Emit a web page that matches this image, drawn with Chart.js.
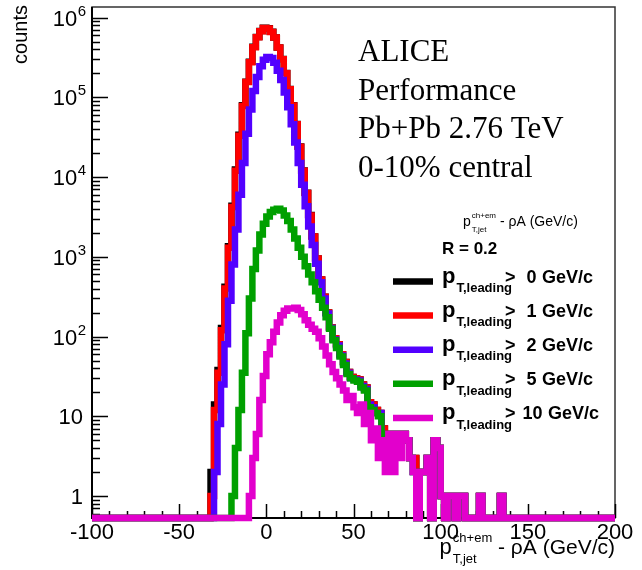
<!DOCTYPE html>
<html>
<head>
<meta charset="utf-8">
<script src="https://cdn.jsdelivr.net/npm/chart.js@4.4.0/dist/chart.umd.min.js"></script>
<style>
  html, body { margin: 0; padding: 0; background: #fff; }
  #wrap { width: 642px; height: 570px; }
</style>
</head>
<body>
<div id="wrap"><canvas id="jets" width="642" height="570"></canvas></div>
<script>
// histogram binning: 2 GeV/c bins, first listed bin starts at -34
const binWidth = 2;
const firstEdge = -34;
const xMin = -100, xMax = 200;
const yMin = 0.53, yMax = 1.355e6;

// counts per bin (p_T,leading > 0, 1, 2, 5, 10 GeV/c)
const countsAll = [
  0, 2, 14, 38, 128, 420, 1350, 4350, 12400, 33800,
  79500, 157000, 278000, 429000, 569000, 679000, 744000, 733000, 663000, 562000,
  422000, 301000, 201000, 127000, 79500, 46300, 24200, 12100, 6350, 3330,
  1800, 950, 520, 316, 200, 130, 95, 80, 60, 48,
  36, 31, 30, 29, 25, 23, 15, 14, 12, 11,
  7, 6, 6, 5, 6, 6, 6, 5, 3, 3,
  0, 2, 2, 3, 0, 5, 4, 1, 0, 1,
  1, 0, 1, 1, 0, 0, 0, 0, 1, 0,
  0, 0, 0, 0, 1
];
const counts1 = [
  0, 1, 12, 35, 120, 400, 1300, 4200, 12000, 33000,
  78000, 155000, 275000, 425000, 565000, 675000, 740000, 730000, 660000, 560000,
  420000, 300000, 200000, 126000, 79000, 46000, 24000, 12000, 6300, 3300,
  1800, 950, 520, 316, 200, 130, 95, 80, 60, 48,
  36, 31, 30, 29, 25, 23, 15, 14, 12, 11,
  7, 6, 6, 5, 6, 6, 6, 5, 3, 3,
  0, 2, 2, 3, 0, 5, 4, 1, 0, 1,
  1, 0, 1, 1, 0, 0, 0, 0, 1, 0,
  0, 0, 0, 0, 1
];
const counts2 = [
  0, 0, 2, 8, 25, 80, 280, 800, 2200, 6000,
  15000, 35000, 70000, 120000, 180000, 245000, 295000, 320000, 310000, 270000,
  215000, 165000, 115000, 75000, 46000, 27000, 15000, 8000, 4300, 2400,
  1400, 820, 480, 300, 195, 128, 92, 77, 58, 46,
  35, 30, 29, 28, 24, 22, 14, 13, 11, 11,
  6, 6, 6, 5, 6, 6, 6, 5, 3, 2,
  0, 2, 2, 3, 0, 5, 4, 1, 0, 1,
  1, 0, 1, 1, 0, 0, 0, 0, 1, 0,
  0, 0, 0, 0, 1
];
const counts5 = [
  0, 0, 0, 0, 0, 0, 0, 1, 4, 12,
  35, 110, 300, 700, 1200, 1900, 2600, 3200, 3650, 3900,
  4000, 3800, 3300, 2800, 2200, 1700, 1300, 1000, 760, 600,
  480, 370, 290, 230, 175, 125, 90, 72, 56, 44,
  34, 30, 28, 27, 23, 21, 13, 12, 11, 10,
  6, 6, 6, 5, 6, 6, 6, 5, 3, 2,
  0, 2, 2, 3, 0, 5, 4, 1, 0, 1,
  1, 0, 1, 1, 0, 0, 0, 0, 1, 0,
  0, 0, 0, 0, 1
];
const counts10 = [
  0, 0, 0, 0, 0, 0, 0, 0, 0, 0,
  0, 0, 1, 3, 6, 16, 32, 60, 85, 115,
  150, 185, 210, 225, 225, 230, 215, 190, 160, 140,
  125, 115, 95, 75, 58, 45, 36, 30, 25, 21,
  16, 18, 13, 11, 14, 8, 11, 5, 7, 3,
  5, 2, 6, 2, 6, 3, 6, 5, 3, 2,
  0, 2, 2, 3, 0, 5, 4, 1, 0, 1,
  1, 0, 1, 1, 0, 0, 0, 0, 1, 0,
  0, 0, 0, 0, 1
];

const thresholds = ['0', '1', '2', '5', '10'];
const colors = ['#000000', '#ff0000', '#5200ff', '#00a000', '#e200cc'];
const xTickLabels = [-100, -50, 0, 50, 100, 150, 200];
const yTickExponents = [0, 1, 2, 3, 4, 5, 6];
const allCounts = [countsAll, counts1, counts2, counts5, counts10];

// step points at bin low edges; empty bins sit on the axis minimum like ROOT draws them
function stepPoints(counts) {
  const pts = [{x: xMin, y: yMin}];
  counts.forEach((c, i) => pts.push({x: firstEdge + i * binWidth, y: c > 0 ? c : yMin}));
  pts.push({x: firstEdge + counts.length * binWidth, y: yMin});
  pts.push({x: xMax, y: yMin});
  return pts;
}

const datasets = allCounts.map((counts, i) => ({
  label: 'pT,leading > ' + thresholds[i] + ' GeV/c',
  data: stepPoints(counts),
  borderColor: colors[i],
  borderWidth: 6.5,
  borderJoinStyle: 'miter',
  stepped: 'before',
  pointRadius: 0,
  fill: false,
  order: allCounts.length - i,
  clip: {left: 0, top: 0, right: 0, bottom: 8}
}));

const SANS = '"Liberation Sans", Arial, sans-serif';
const SERIF = '"Liberation Serif", "Times New Roman", serif';

function text(ctx, s, x, y, font, align) {
  ctx.font = font;
  ctx.textAlign = align || 'left';
  ctx.fillText(s, x, y);
  return ctx.measureText(s).width;
}

// p with superscript and subscript, returns width used
function pSym(ctx, x, y, size, sup, sub, bold) {
  const w = bold ? 'bold ' : '';
  const pw = text(ctx, 'p', x, y, w + size + 'px ' + SANS);
  const s = Math.round(size * 0.6);
  let sw = 0;
  if (sup) sw = text(ctx, sup, x + pw + 1, y - size * 0.55, w + s + 'px ' + SANS);
  const bw = text(ctx, sub, x + pw + 1, y + size * 0.42, w + s + 'px ' + SANS);
  return pw + 1 + Math.max(sw, bw);
}

const decor = {
  id: 'decor',
  beforeDatasetsDraw(chart) {
    const {ctx, chartArea: a, scales} = chart;
    ctx.save();
    ctx.strokeStyle = '#333';
    ctx.lineWidth = 1.5;
    ctx.strokeRect(a.left, a.top, a.right - a.left, a.bottom - a.top);
    ctx.strokeStyle = '#000';
    ctx.lineWidth = 2;
    ctx.beginPath();
    ctx.moveTo(a.left, a.top); ctx.lineTo(a.left, a.bottom); ctx.lineTo(a.right, a.bottom);
    ctx.stroke();
    ctx.lineWidth = 1.5;
    ctx.beginPath();
    for (let v = xMin; v <= xMax; v += 10) {
      const x = Math.round(scales.x.getPixelForValue(v)) + 0.5;
      const len = v % 50 === 0 ? 14 : 7;
      ctx.moveTo(x, a.bottom); ctx.lineTo(x, a.bottom - len);
    }
    for (let e = -1; e <= 6; e++) {
      for (let m = 1; m <= 9; m++) {
        const v = m * Math.pow(10, e);
        if (v < yMin || v > yMax) continue;
        const y = Math.round(scales.y.getPixelForValue(v)) + 0.5;
        ctx.moveTo(a.left, y); ctx.lineTo(a.left + (m === 1 ? 16 : 8), y);
      }
    }
    ctx.stroke();
    ctx.restore();
  },
  afterDatasetsDraw(chart) {
    const {ctx, scales} = chart;
    ctx.save();
    ctx.fillStyle = '#000';
    ctx.textBaseline = 'alphabetic';
    // x tick labels
    xTickLabels.forEach(v => {
      text(ctx, String(v), scales.x.getPixelForValue(v), 539, '22px ' + SANS, 'center');
    });
    // y tick labels
    const rx = 86;
    yTickExponents.forEach(e => {
      const y = scales.y.getPixelForValue(Math.pow(10, e));
      if (e === 0) text(ctx, '1', rx - 3, y + 8, '22px ' + SANS, 'right');
      else if (e === 1) text(ctx, '10', rx - 3, y + 8, '22px ' + SANS, 'right');
      else {
        ctx.font = '15px ' + SANS;
        const ew = ctx.measureText(String(e)).width;
        text(ctx, String(e), rx, y - 2, '15px ' + SANS, 'right');
        text(ctx, '10', rx - ew - 0.5, y + 8, '22px ' + SANS, 'right');
      }
    });
    // y title
    ctx.save();
    ctx.translate(27, 5);
    ctx.rotate(-Math.PI / 2);
    text(ctx, 'counts', 0, 0, '20px ' + SANS, 'right');
    ctx.restore();
    // x title, right aligned to the frame
    ctx.font = '21px ' + SANS;
    const rest = ' - \u03c1A (GeV/c)';
    const restW = ctx.measureText(rest).width;
    ctx.font = '13px ' + SANS;
    const subW = Math.max(ctx.measureText('ch+em').width, ctx.measureText('T,jet').width);
    ctx.font = '22px ' + SANS;
    const pW = ctx.measureText('p').width;
    const x0 = 615 - restW - subW - pW - 1;
    const used = pSym(ctx, x0, 554, 22, 'ch+em', 'T,jet', false);
    text(ctx, rest, x0 + used, 554, '21px ' + SANS);

    // ALICE label
    const serif = '31px ' + SERIF;
    text(ctx, 'ALICE', 358, 61, serif);
    text(ctx, 'Performance', 358, 100, serif);
    text(ctx, 'Pb+Pb 2.76 TeV', 358, 138, serif);
    text(ctx, '0-10% central', 358, 177, serif);

    // legend header
    const hw = pSym(ctx, 463, 226, 14, 'ch+em', 'T,jet', false);
    text(ctx, ' - \u03c1A (GeV/c)', 463 + hw, 226, '14px ' + SANS);
    text(ctx, 'R = 0.2', 442, 254, 'bold 17px ' + SANS);

    // legend entries
    thresholds.forEach((t, i) => {
      const y = 283 + i * 34.1;
      ctx.strokeStyle = colors[i];
      ctx.lineWidth = 6.5;
      ctx.beginPath();
      ctx.moveTo(393, y - 1.5); ctx.lineTo(433, y - 1.5);
      ctx.stroke();
      pSym(ctx, 442, y, 22, null, 'T,leading', true);
      text(ctx, '>', 505, y, 'bold 18px ' + SANS);
      const tx = t.length > 1 ? 522.5 : 526.5;
      const tw = text(ctx, t, tx, y, 'bold 18px ' + SANS);
      text(ctx, 'GeV/c', tx + tw + 5.5, y, 'bold 18px ' + SANS);
    });
    ctx.restore();
  }
};

new Chart(document.getElementById('jets').getContext('2d'), {
  type: 'line',
  data: { datasets: datasets },
  options: {
    responsive: false,
    animation: false,
    events: [],
    devicePixelRatio: 1,
    layout: { padding: { left: 92, right: 27, top: 7, bottom: 52 } },
    plugins: { legend: { display: false }, tooltip: { enabled: false } },
    scales: {
      x: { type: 'linear', min: xMin, max: xMax, display: false },
      y: { type: 'logarithmic', min: yMin, max: yMax, display: false }
    }
  },
  plugins: [decor]
});
</script>
</body>
</html>
